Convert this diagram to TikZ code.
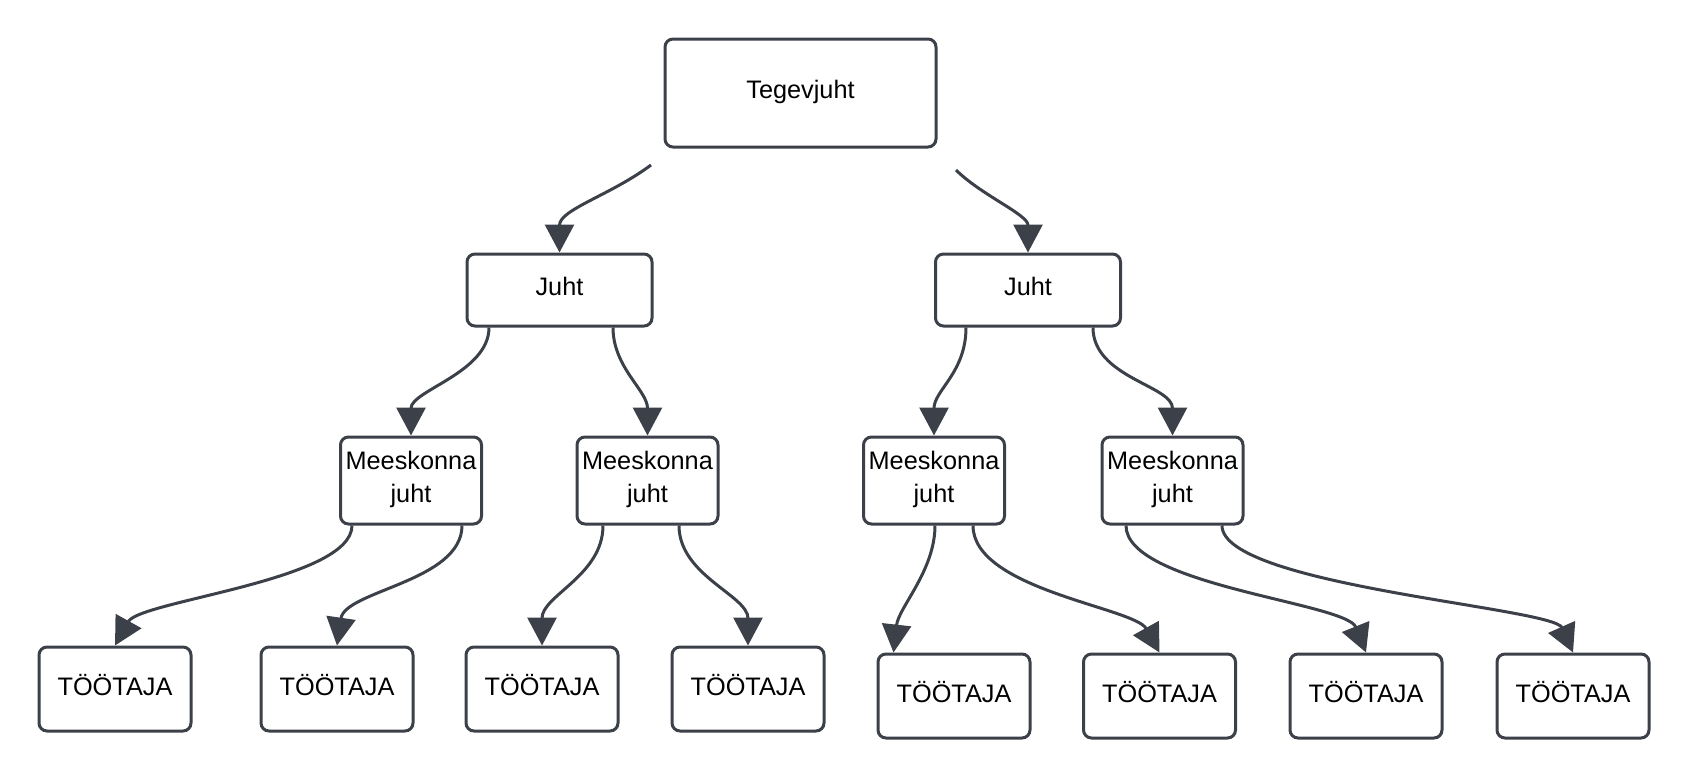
\documentclass[tikz,border=0pt]{standalone}
\usepackage{fontspec}
\setmainfont{Liberation Sans}
\usetikzlibrary{arrows.meta}
\definecolor{linegray}{HTML}{3B4049}
\tikzset{
  box/.style={draw=linegray, line width=3pt, rounded corners=8pt, fill=white,
    inner sep=0pt, align=center, text depth=8pt, font=\fontsize{25.3}{33}\selectfont},
  arr/.style={-{Triangle[length=28pt,width=29pt]}, draw=linegray, line width=3pt},
}
\begin{document}
\begin{tikzpicture}[x=1pt,y=-1pt]
\useasboundingbox (0,0) rectangle (1687,779);
% boxes
\node[box, minimum width=271pt, minimum height=108pt] (top) at (800.5,93) {Tegevjuht};
\node[box, minimum width=185pt, minimum height=72pt] (juhtL) at (559.5,290) {Juht};
\node[box, minimum width=185pt, minimum height=72pt] (juhtR) at (1028,290) {Juht};
\node[box, minimum width=141pt, minimum height=87pt] (mj1) at (411,480.5) {Meeskonna\\juht};
\node[box, minimum width=141pt, minimum height=87pt] (mj2) at (647.5,480.5) {Meeskonna\\juht};
\node[box, minimum width=141pt, minimum height=87pt] (mj3) at (934,480.5) {Meeskonna\\juht};
\node[box, minimum width=141pt, minimum height=87pt] (mj4) at (1172.5,480.5) {Meeskonna\\juht};
\foreach \i/\x/\y in {1/115/689, 2/337/689, 3/542/689, 4/748/689,
                      5/954/696, 6/1159.5/696, 7/1366/696, 8/1573/696}
    \node[box, minimum width=152pt, minimum height=84pt] (t\i) at (\x,\y) {TÖÖTAJA};

% connectors
\coordinate (s1) at (651,165);
\coordinate (s2) at (956,170);
\draw[arr] (s1) .. controls +(-40,30) and +(0,-43) .. (juhtL.north);
\draw[arr] (s2) .. controls +(25,25) and +(0,-38) .. (juhtR.north);

\draw[arr] ([xshift=-70.5pt]juhtL.south) .. controls +(0,45) and +(0,-45) .. (mj1.north);
\draw[arr] ([xshift=53.5pt]juhtL.south) .. controls +(0,40) and +(0,-45) .. (mj2.north);
\draw[arr] ([xshift=-62pt]juhtR.south) .. controls +(0,45) and +(0,-45) .. (mj3.north);
\draw[arr] ([xshift=65pt]juhtR.south) .. controls +(0,50) and +(0,-50) .. (mj4.north);

\draw[arr] ([xshift=-59pt]mj1.south) .. controls +(0,55) and +(25,-45) .. (t1.north);
\draw[arr] ([xshift=51pt]mj1.south) .. controls +(0,56) and +(8,-55) .. (t2.north);
\draw[arr] ([xshift=-44.5pt]mj2.south) .. controls +(0,50) and +(0,-50) .. (t3.north);
\draw[arr] ([xshift=31.5pt]mj2.south) .. controls +(0,50) and +(0,-50) .. (t4.north);
\draw[arr] ([xshift=1pt]mj3.south) .. controls +(0,45) and +(5,-45) .. ([xshift=17pt]t5.north west);
\draw[arr] ([xshift=39pt]mj3.south) .. controls +(0,64) and +(-25,-45) .. (t6.north);
\draw[arr] ([xshift=-46.5pt]mj4.south) .. controls +(0,60) and +(-20,-50) .. (t7.north);
\draw[arr] ([xshift=49.5pt]mj4.south) .. controls +(0,60) and +(-20,-45) .. (t8.north);
\end{tikzpicture}
\end{document}
